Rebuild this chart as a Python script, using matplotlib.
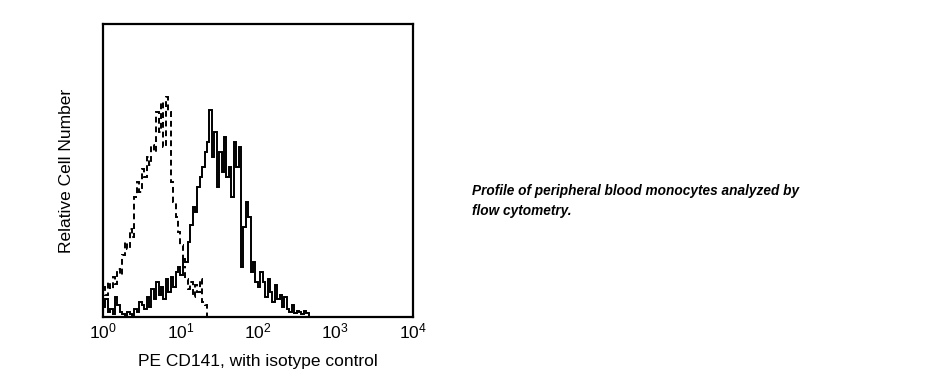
import numpy as np
import matplotlib
matplotlib.use("Agg")
import matplotlib.pyplot as plt

plt.rcParams['font.family'] = ['Liberation Sans', 'DejaVu Sans']
plt.rcParams['mathtext.fontset'] = 'custom'
plt.rcParams['mathtext.rm'] = 'Liberation Sans'
plt.rcParams['mathtext.it'] = 'Liberation Sans:italic'
plt.rcParams['mathtext.bf'] = 'Liberation Sans:bold'

# 32 channels per decade, starting at 10^0
bins_per_decade = 32

# isotype control (dashed), relative counts per channel
isotype = [30, 22, 35, 28, 40, 33, 48, 42, 62, 75, 68, 88, 80, 120, 135, 125,
           148, 140, 160, 152, 172, 165, 205, 185, 215, 170, 220, 205, 135, 115,
           100, 85, 72, 50, 38, 28, 35, 20, 32, 25, 38, 15, 12, 0]

# PE CD141 stained (solid)
cd141 = [10, 18, 5, 8, 3, 20, 12, 5, 3, 0, 5, 3, 2, 8, 5, 15,
         12, 8, 20, 10, 28, 18, 35, 22, 30, 18, 38, 25, 40, 30, 45, 50,
         42, 58, 55, 75, 92, 110, 105, 130, 140, 150, 165, 175, 207, 160, 185, 130,
         165, 145, 180, 140, 150, 120, 175, 150, 170, 50, 90, 115, 100, 45, 55, 35,
         30, 45, 35, 20, 38, 25, 15, 32, 18, 22, 10, 20, 8, 5, 12, 4,
         6, 5, 3, 6, 4, 0]

tick_labels = ['$10^0$', '$10^1$', '$10^2$', '$10^3$', '$10^4$']


def edges_for(values):
    k = np.arange(len(values) + 1)
    return 10 ** (k / bins_per_decade)


fig = plt.figure(figsize=(9.36, 3.92), dpi=100)
ax = fig.add_axes([0.110, 0.191, 0.331, 0.748])

ax.stairs(isotype, edges_for(isotype), color='black', lw=1.4,
          linestyle=(0, (3, 2)), baseline=None)
ax.stairs(cd141, edges_for(cd141), color='black', lw=1.4, baseline=None)

ax.set_xscale('log')
ax.set_xlim(1, 1e4)
ax.set_ylim(0, 293)
ax.set_xticks([1, 10, 100, 1000, 10000])
ax.set_xticklabels(tick_labels, fontsize=12.5)
ax.minorticks_off()
ax.tick_params(axis='x', length=0, pad=3)
ax.set_yticks([])
for s in ax.spines.values():
    s.set_linewidth(1.6)

ax.set_xlabel('PE CD141, with isotype control', fontsize=12.5, labelpad=9)
ax.set_ylabel('Relative Cell Number', fontsize=12.5, labelpad=21)

fig.text(0.504, 0.488, 'Profile of peripheral blood monocytes analyzed by\nflow cytometry.',
         fontsize=9.8, fontweight='bold', fontstyle='italic', va='center', ha='left',
         linespacing=1.55)

fig.savefig('out.png', dpi=100)
